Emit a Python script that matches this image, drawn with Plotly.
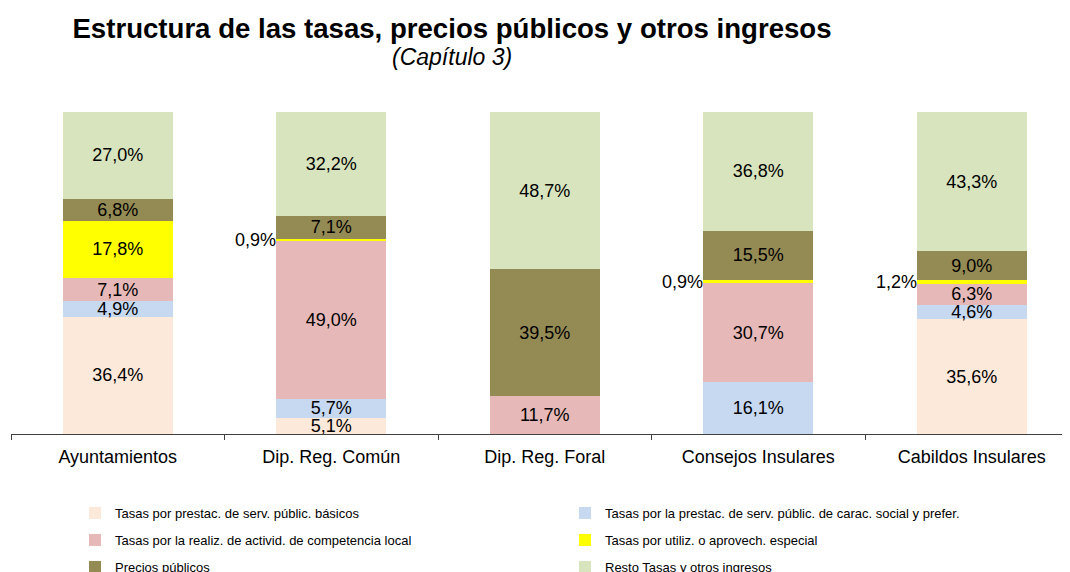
import plotly.graph_objects as go

categories = ["Ayuntamientos", "Dip. Reg. Común", "Dip. Reg. Foral", "Consejos Insulares", "Cabildos Insulares"]

series_names = [
    "Tasas por prestac. de serv. públic. básicos",
    "Tasas por la prestac. de serv. públic. de carac. social y prefer.",
    "Tasas por la realiz. de activid. de competencia local",
    "Tasas por utiliz. o aprovech. especial",
    "Precios públicos",
    "Resto Tasas y otros ingresos",
]

basicos = [36.4, 5.1, None, None, 35.6]
social = [4.9, 5.7, None, 16.1, 4.6]
competencia = [7.1, 49.0, 11.7, 30.7, 6.3]
aprovech = [17.8, 0.9, None, 0.9, 1.2]
precios = [6.8, 7.1, 39.5, 15.5, 9.0]
resto = [27.0, 32.2, 48.7, 36.8, 43.3]

series_values = [basicos, social, competencia, aprovech, precios, resto]
colors = ["#FDE9D9", "#C6D9F1", "#E6B9B8", "#FFFF00", "#948A54", "#D7E4BD"]

FONT = "Liberation Sans, Arial, sans-serif"
# the page adds an 8px body margin, so the figure is sized/positioned to compensate
OFF = 8
W, H = 1070 - OFF, 572 - OFF
L, T = 11 - OFF, 112 - OFF
B = H - (434 - OFF)
PW = W - L
bar_width = 0.515


def fmt(v):
    return f"{v:.1f}".replace(".", ",") + "%"


legend_names = ["legend", "legend", "legend2", "legend2", "legend3", "legend3"]

fig = go.Figure()
for name, vals, col, lg in zip(series_names, series_values, colors, legend_names):
    texts = [fmt(v) if (v is not None and v >= 2) else "" for v in vals]
    fig.add_trace(go.Bar(
        name=name, x=categories, y=vals, marker=dict(color=col, line=dict(width=0)),
        text=texts, texttemplate="%{text}", textposition="inside",
        insidetextanchor="middle", textangle=0, constraintext="none",
        textfont=dict(family=FONT, size=18, color="#000000"),
        width=bar_width, legend=lg, hoverinfo="name+y",
    ))

# small-value labels placed left of the bar
annotations = []
for i, cat in enumerate(categories):
    cum = 0.0
    for vals in series_values:
        v = vals[i]
        if v is None:
            continue
        if v < 2:
            annotations.append(dict(
                x=i - bar_width / 2, y=cum + v / 2, xref="x", yref="y",
                text=fmt(v), showarrow=False, xanchor="right", yanchor="middle",
                xshift=2, font=dict(family=FONT, size=18, color="#000000"),
            ))
        cum += v

title_cx = 452 - OFF
annotations.append(dict(
    x=(title_cx - L) / PW, y=(H - B - (57 - OFF)) / (H - T - B), xref="paper", yref="paper",
    text="<i>(Capítulo 3)</i>", showarrow=False, xanchor="center", yanchor="middle",
    font=dict(family=FONT, size=23, color="#000000"),
))

leg_common = dict(
    orientation="h", xref="container", yref="container", xanchor="left", yanchor="middle",
    font=dict(family=FONT, size=13, color="#000000"), entrywidth=445, entrywidthmode="pixels",
    itemwidth=30, bgcolor="rgba(0,0,0,0)", traceorder="normal",
)
leg_x = (115 - OFF - 40) / W

fig.update_layout(
    width=W, height=H,
    margin=dict(l=L, r=0, t=T, b=B, autoexpand=False),
    paper_bgcolor="white", plot_bgcolor="white",
    barmode="stack", separators=",.",
    title=dict(
        text="<b>Estructura de las tasas, precios públicos y otros ingresos</b>",
        x=title_cx / W, xref="container", xanchor="center",
        y=1 - (28 - OFF) / H, yref="container", yanchor="middle",
        font=dict(family=FONT, size=27.6, color="#000000"),
    ),
    xaxis=dict(
        range=[-0.5, -0.5 + PW / 213.5], showline=True, linecolor="#404040", linewidth=1,
        ticks="outside", tickson="boundaries", ticklen=5, tickcolor="#404040",
        ticklabelstandoff=6,
        tickfont=dict(family=FONT, size=18, color="#000000"), showgrid=False, zeroline=False,
        fixedrange=True,
    ),
    yaxis=dict(range=[0, 100], visible=False, showgrid=False, zeroline=False, fixedrange=True),
    legend=dict(leg_common, x=leg_x, y=1 - (513 - OFF) / H),
    legend2=dict(leg_common, x=leg_x, y=1 - (540 - OFF) / H),
    legend3=dict(leg_common, x=leg_x, y=1 - (567 - OFF) / H),
    annotations=annotations,
    showlegend=True,
)

fig.write_html("out.html")
